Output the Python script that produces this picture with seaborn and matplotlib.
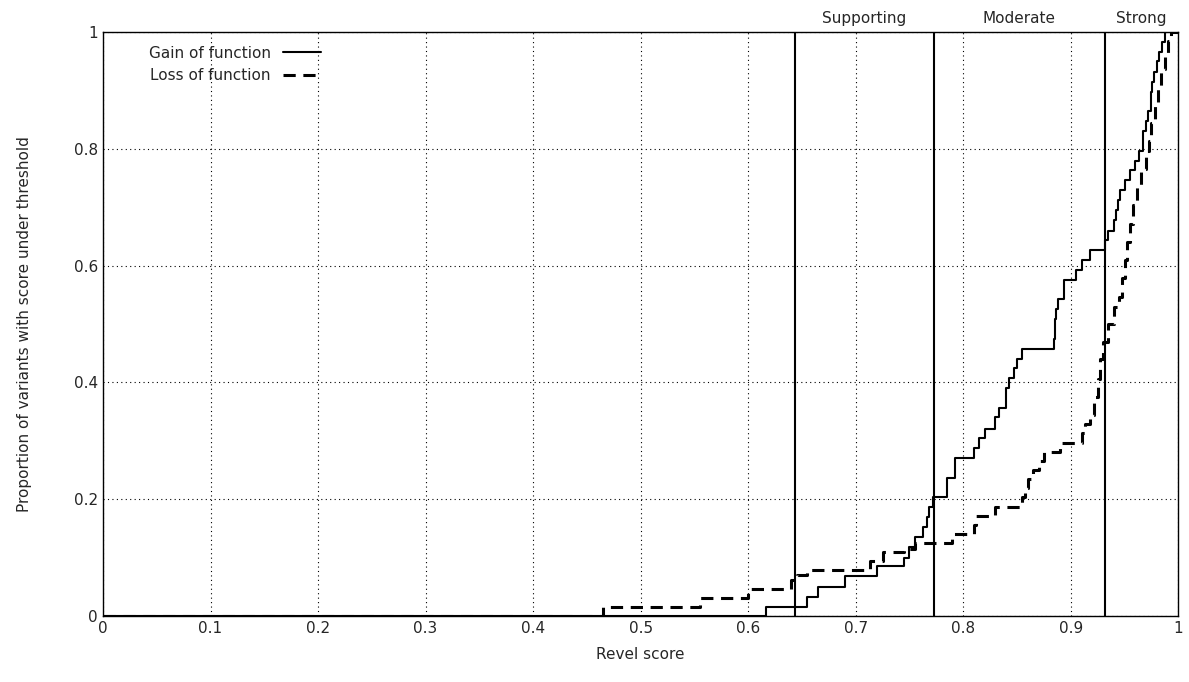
import pandas as pd
import seaborn as sns
import matplotlib.pyplot as plt

# step points (score, cumulative proportion)
gof_x = [0, 0.617, 0.655, 0.665, 0.69, 0.72, 0.745, 0.75, 0.755, 0.763, 0.766, 0.768, 0.772,
         0.785, 0.792, 0.81, 0.815, 0.82, 0.83, 0.833, 0.84, 0.843, 0.847, 0.85, 0.855,
         0.884, 0.885, 0.886, 0.888, 0.894, 0.905, 0.91, 0.918, 0.932, 0.935, 0.94, 0.942,
         0.944, 0.946, 0.95, 0.955, 0.96, 0.963, 0.967, 0.97, 0.972, 0.975, 0.976, 0.977,
         0.98, 0.982, 0.985, 0.988, 1.0]
gof_y = [0, 0.016, 0.033, 0.05, 0.068, 0.085, 0.1, 0.118, 0.135, 0.153, 0.17, 0.186, 0.203,
         0.237, 0.27, 0.288, 0.305, 0.32, 0.34, 0.356, 0.39, 0.407, 0.424, 0.44, 0.457,
         0.475, 0.508, 0.525, 0.542, 0.576, 0.593, 0.61, 0.627, 0.644, 0.66, 0.678, 0.695,
         0.712, 0.729, 0.746, 0.763, 0.78, 0.797, 0.83, 0.847, 0.864, 0.898, 0.915, 0.932,
         0.95, 0.966, 0.983, 1.0, 1.0]
lof_x = [0, 0.465, 0.555, 0.6, 0.64, 0.645, 0.655, 0.713, 0.725, 0.745, 0.755, 0.79, 0.81,
         0.812, 0.83, 0.855, 0.857, 0.86, 0.865, 0.87, 0.875, 0.89, 0.91, 0.913, 0.918,
         0.922, 0.925, 0.927, 0.93, 0.935, 0.94, 0.945, 0.948, 0.95, 0.952, 0.955, 0.958,
         0.962, 0.965, 0.97, 0.973, 0.975, 0.978, 0.981, 0.984, 0.988, 0.99, 0.993, 1.0]
lof_y = [0, 0.016, 0.031, 0.047, 0.062, 0.07, 0.078, 0.094, 0.109, 0.115, 0.125, 0.14, 0.156,
         0.172, 0.187, 0.203, 0.22, 0.235, 0.25, 0.266, 0.281, 0.297, 0.313, 0.328, 0.344,
         0.375, 0.406, 0.44, 0.47, 0.5, 0.53, 0.547, 0.578, 0.61, 0.64, 0.672, 0.703,
         0.734, 0.766, 0.797, 0.813, 0.844, 0.875, 0.906, 0.937, 0.96, 0.984, 1.0, 1.0]
thresholds = [0.644, 0.773, 0.932]
band_labels = ['Supporting', 'Moderate', 'Strong']
band_centers = [0.708, 0.852, 0.966]

sns.set_style('white')
plt.rcParams['font.family'] = ['DejaVu Sans']

fig = plt.figure(figsize=(11.89, 6.82), dpi=100)
ax = fig.add_axes([0.0866, 0.0968, 0.9044, 0.8562])

gof = pd.DataFrame({'x': gof_x, 'y': gof_y})
lof = pd.DataFrame({'x': lof_x, 'y': lof_y})
sns.lineplot(data=gof, x='x', y='y', ax=ax, color='black', lw=1.5,
             drawstyle='steps-post', label='Gain of function', estimator=None)
sns.lineplot(data=lof, x='x', y='y', ax=ax, color='black', lw=2.2, dashes=False,
             drawstyle='steps-post', label='Loss of function', estimator=None)
ax.lines[-1].set_linestyle((0, (4, 2.5)))

for t in thresholds:
    ax.axvline(t, color='black', lw=1.5)
for lab, c in zip(band_labels, band_centers):
    ax.text(c, 1.01, lab, ha='center', va='bottom', fontsize=11)

ax.set_xlim(0, 1)
ax.set_ylim(0, 1)
ax.set_xticks([i / 10 for i in range(11)])
ax.set_xticklabels(['0'] + [f'{i/10:g}' for i in range(1, 10)] + ['1'])
ax.set_yticks([0, 0.2, 0.4, 0.6, 0.8, 1])
ax.set_yticklabels(['0', '0.2', '0.4', '0.6', '0.8', '1'])
ax.grid(True, color='black', linestyle=(0, (1, 3)), lw=0.8)
ax.tick_params(direction='in', labelsize=11, length=5)
for s in ax.spines.values():
    s.set_color('black')
    s.set_linewidth(1)
ax.set_xlabel('Revel score', fontsize=11, labelpad=8)
ax.set_ylabel('Proportion of variants with score under threshold', fontsize=11, labelpad=30)
leg = ax.legend(loc='upper left', markerfirst=False, frameon=False, fontsize=11,
                handlelength=2.5, bbox_to_anchor=(0.03, 1.0))
plt.savefig('out.png', dpi=100)
